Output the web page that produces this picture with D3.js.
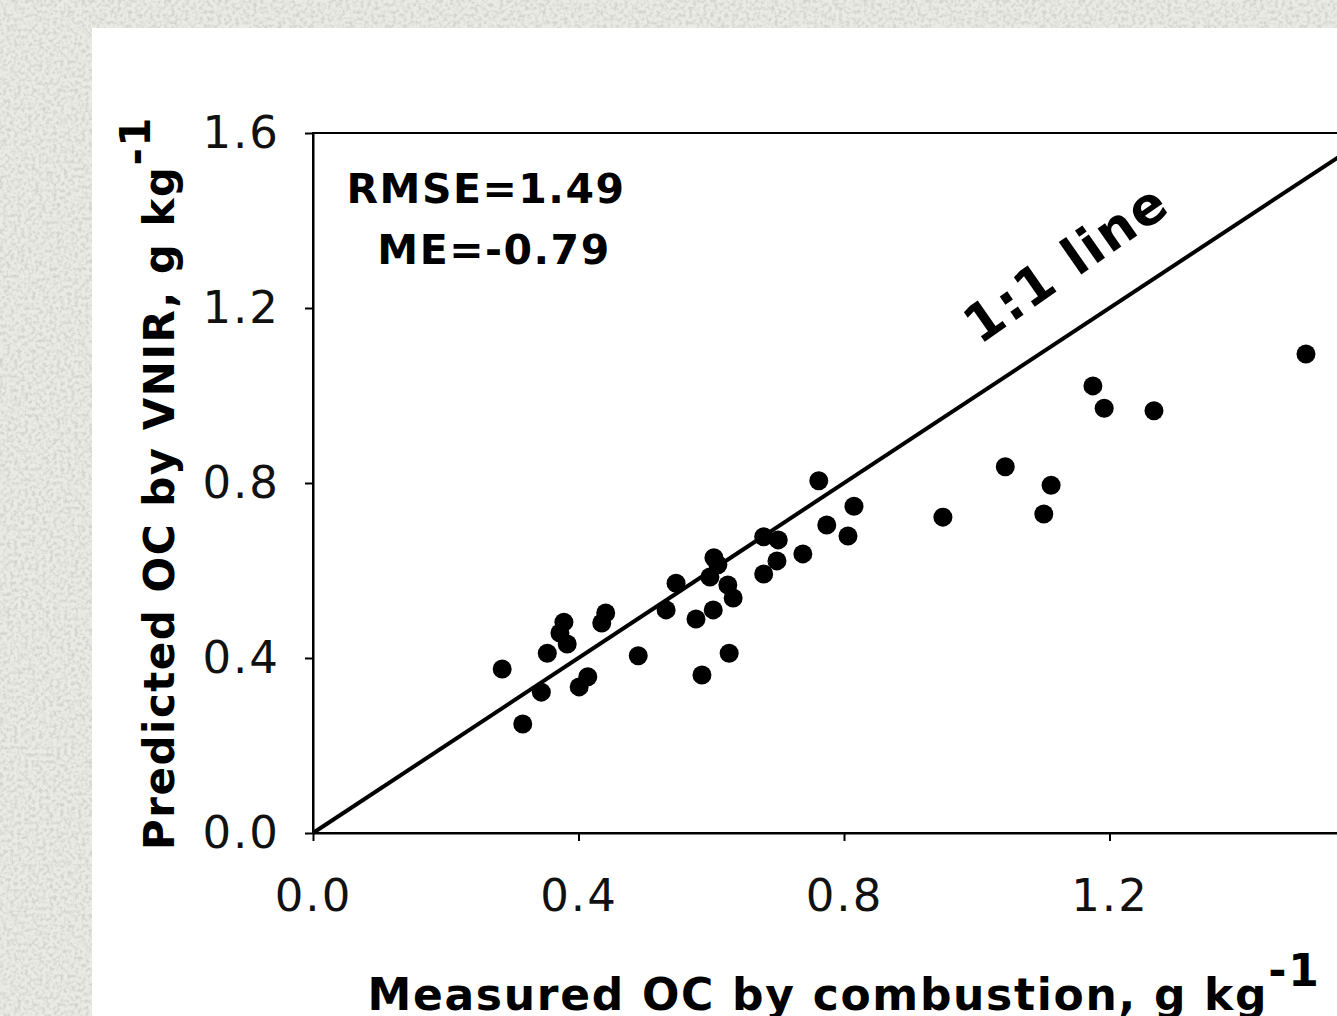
<!DOCTYPE html>
<html>
<head>
<meta charset="utf-8">
<script src="https://cdn.jsdelivr.net/npm/d3@7"></script>
<style>
  body { margin: 0; background: #e4e4df; overflow: hidden; }
  svg { display: block; }
</style>
</head>
<body>
<div id="chart"></div>
<script>
// measured OC by combustion (g/kg)
var measured = [0.285, 0.316, 0.344, 0.353, 0.378, 0.372, 0.383, 0.401, 0.414, 0.441,
                0.435, 0.490, 0.547, 0.532, 0.577, 0.603, 0.586, 0.627, 0.604, 0.610,
                0.598, 0.625, 0.633, 0.679, 0.701, 0.699, 0.679, 0.738, 0.774, 0.762,
                0.815, 0.806, 0.949, 1.496, 1.175, 1.192, 1.267, 1.043, 1.112, 1.101];
// predicted OC by VNIR (g/kg)
var predicted = [0.375, 0.249, 0.322, 0.411, 0.482, 0.457, 0.432, 0.334, 0.357, 0.503,
                 0.480, 0.405, 0.571, 0.510, 0.489, 0.510, 0.361, 0.411, 0.629, 0.613,
                 0.585, 0.567, 0.537, 0.677, 0.670, 0.622, 0.592, 0.638, 0.704, 0.805,
                 0.747, 0.679, 0.722, 1.095, 1.022, 0.971, 0.965, 0.837, 0.795, 0.729];
var xTicks = [0.0, 0.4, 0.8, 1.2, 1.6];
var yTicks = [0.0, 0.4, 0.8, 1.2, 1.6];
var stats = ["RMSE=1.49", "ME=-0.79"];

var W = 1337, H = 1016;
var margin = {top: 133, left: 313, bottom: 183, right: -38};
var width = W - margin.left - margin.right,
    height = H - margin.top - margin.bottom;

var svg = d3.select("#chart").append("svg")
    .attr("width", W)
    .attr("height", H);

// textured grey background
var defs = svg.append("defs");
var filt = defs.append("filter").attr("id", "grain")
    .attr("x", 0).attr("y", 0).attr("width", "100%").attr("height", "100%");
filt.append("feTurbulence").attr("type", "fractalNoise")
    .attr("baseFrequency", 0.28).attr("numOctaves", 3).attr("seed", 7).attr("result", "n");
filt.append("feColorMatrix").attr("in", "n").attr("type", "matrix")
    .attr("values", "0 0 0 0 0.6  0 0 0 0 0.6  0 0 0 0 0.57  0 0 0 -2.6 1.55");

svg.append("rect").attr("width", W).attr("height", H).attr("fill", "#ebebe6");
svg.append("rect").attr("width", W).attr("height", H).attr("filter", "url(#grain)").attr("opacity", 0.8);

// white panel
svg.append("rect")
    .attr("x", 92).attr("y", 28)
    .attr("width", W - 92).attr("height", H - 28)
    .attr("fill", "#ffffff");

var g = svg.append("g")
    .attr("transform", "translate(" + margin.left + "," + margin.top + ")");

var x = d3.scaleLinear().domain([0, 1.6]).range([0, width]);
var y = d3.scaleLinear().domain([0, 1.6]).range([height, 0]);

var tickFont = "'DejaVu Sans', Verdana, sans-serif";

// plot border (top edge shows)
g.append("rect")
    .attr("x", 0).attr("y", 0)
    .attr("width", width).attr("height", height)
    .attr("fill", "none")
    .attr("stroke", "#000")
    .attr("stroke-width", 2);

// x axis
var xAxis = g.append("g")
    .attr("transform", "translate(0," + height + ")")
    .call(d3.axisBottom(x).tickValues(xTicks).tickFormat(d3.format(".1f"))
        .tickSizeInner(8).tickSizeOuter(0).tickPadding(38));
// y axis
var yAxis = g.append("g")
    .call(d3.axisLeft(y).tickValues(yTicks).tickFormat(d3.format(".1f"))
        .tickSizeInner(8).tickSizeOuter(0).tickPadding(25));

[xAxis, yAxis].forEach(function(ax) {
  ax.select(".domain").attr("stroke-width", 2);
  ax.selectAll(".tick line").attr("stroke-width", 2);
  ax.selectAll(".tick text")
    .style("font-family", tickFont)
    .style("font-size", "45px")
    .style("letter-spacing", "2px")
    .attr("fill", "#111");
});

// 1:1 line
g.append("line")
    .attr("x1", x(0)).attr("y1", y(0))
    .attr("x2", x(1.6)).attr("y2", y(1.6))
    .attr("stroke", "#000")
    .attr("stroke-width", 4);

// points
g.selectAll("circle.pt")
    .data(measured.map(function(d, i) { return {m: d, p: predicted[i]}; }))
    .enter().append("circle")
    .attr("class", "pt")
    .attr("cx", function(d) { return x(d.m); })
    .attr("cy", function(d) { return y(d.p); })
    .attr("r", 9.5)
    .attr("fill", "#000");

// statistics
g.append("text")
    .attr("x", 173).attr("y", 70)
    .attr("text-anchor", "middle")
    .style("font-family", tickFont)
    .style("font-weight", "bold")
    .style("font-size", "41px")
    .style("letter-spacing", "1.5px")
    .text(stats[0]);
g.append("text")
    .attr("x", 181).attr("y", 131)
    .attr("text-anchor", "middle")
    .style("font-family", tickFont)
    .style("font-weight", "bold")
    .style("font-size", "41px")
    .style("letter-spacing", "1.5px")
    .text(stats[1]);

// 1:1 line label
var ang = Math.atan2(y(0) - y(1), x(1) - x(0)) * 180 / Math.PI;
var lx = x(1.15), ly = y(1.15) - 52;
g.append("text")
    .attr("transform", "translate(" + lx + "," + ly + ") rotate(" + (-ang - 1.5) + ")")
    .attr("text-anchor", "middle")
    .style("font-family", tickFont)
    .style("font-weight", "bold")
    .style("font-size", "52px")
    .style("letter-spacing", "2px")
    .text("1:1 line");

// axis titles
var xt = svg.append("text")
    .attr("x", margin.left + width / 2)
    .attr("y", 1010)
    .attr("text-anchor", "middle")
    .style("font-family", tickFont)
    .style("font-weight", "bold")
    .style("font-size", "44px")
    .style("letter-spacing", "1.7px");
xt.append("tspan").text("Measured OC by combustion, g kg");
xt.append("tspan").attr("dy", -24).text("-1");

var yt = svg.append("text")
    .attr("transform", "translate(174," + (margin.top + height / 2) + ") rotate(-90)")
    .attr("text-anchor", "middle")
    .style("font-family", tickFont)
    .style("font-weight", "bold")
    .style("font-size", "42px")
    .style("letter-spacing", "1.5px");
yt.append("tspan").text("Predicted OC by VNIR, g kg");
yt.append("tspan").attr("dy", -24).text("-1");
</script>
</body>
</html>
